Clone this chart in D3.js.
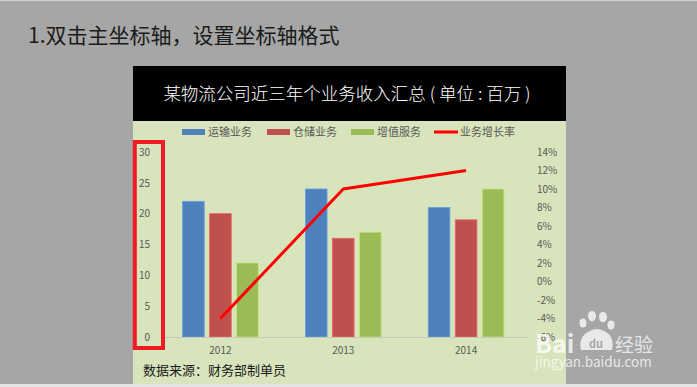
<!DOCTYPE html>
<html><head><meta charset="utf-8">
<script src="https://cdn.jsdelivr.net/npm/d3@7"></script>
<style>
html,body{margin:0;padding:0;background:#a6a6a6;}
svg{display:block;}
text{font-family:"Noto Sans CJK SC","Noto Sans",sans-serif;}
</style></head>
<body>
<svg id="c" width="697" height="387"></svg>
<script>
const years = ["2012", "2013", "2014"];
const seriesNames = ["运输业务", "仓储业务", "增值服务"];
const transport = [22, 24, 21];
const storage = [20, 16, 19];
const valueAdded = [12, 17, 24];
const growthName = "业务增长率";
const growth = [-0.04, 0.10, 0.12];
const leftTicks = [0, 5, 10, 15, 20, 25, 30];
const rightTicks = [-0.06, -0.04, -0.02, 0, 0.02, 0.04, 0.06, 0.08, 0.10, 0.12, 0.14];
const colors = ["#4f81bd", "#c0504d", "#9bbb59"];
const lineColor = "#ff0000";

const svg = d3.select("#c");
svg.append("rect").attr("x",0).attr("y",0).attr("width",697).attr("height",1).attr("fill","#d0d0d0");
svg.append("rect").attr("x",0).attr("y",384).attr("width",697).attr("height",3).attr("fill","#e4e4e4");

svg.append("text").attr("x",28).attr("y",43).attr("font-size",21).attr("fill","#1a1a1a")
  .text("1.双击主坐标轴，设置坐标轴格式");

// panel
svg.append("rect").attr("x",133).attr("y",66).attr("width",433).attr("height",318).attr("fill","#d8e4bc");
svg.append("rect").attr("x",133).attr("y",66).attr("width",433).attr("height",55).attr("fill","#000");
svg.append("text").attr("x",347).attr("y",100).attr("text-anchor","middle").attr("font-size",17.5)
  .attr("font-weight",300).attr("fill","#fff").text("某物流公司近三年个业务收入汇总 ( 单位 : 百万 )");

const x = d3.scaleBand().domain(years).range([159, 527.5]).paddingInner(0.384).paddingOuter(0.192);
const xs = d3.scaleBand().domain(seriesNames).range([0, x.bandwidth()]).paddingInner(0.2).paddingOuter(0);
const yL = d3.scaleLinear().domain([0, 30]).range([337, 152]);
const yR = d3.scaleLinear().domain([-0.06, 0.14]).range([337, 152]);

const data = [transport, storage, valueAdded];

seriesNames.forEach((s, si) => {
  svg.append("g").selectAll("rect").data(years).join("rect")
    .attr("x", (d) => x(d) + xs(s))
    .attr("y", (d, i) => yL(data[si][i]))
    .attr("width", xs.bandwidth())
    .attr("height", (d, i) => yL(0) - yL(data[si][i]))
    .attr("fill", colors[si])
    .attr("stroke", d3.color(colors[si]).brighter(0.6))
    .attr("stroke-width", 0.8);
});

svg.append("line").attr("x1",159).attr("x2",527.5).attr("y1",yL(0)+0.5).attr("y2",yL(0)+0.5)
  .attr("stroke","#c4c9b8").attr("stroke-width",1);

const line = d3.line().x((d, i) => x(years[i]) + x.bandwidth()/2).y(d => yR(d));
svg.append("path").datum(growth).attr("d", line).attr("fill","none")
  .attr("stroke", lineColor).attr("stroke-width", 3).attr("stroke-linejoin","round");

const pct = d => d3.format(".0%")(d).replace("\u2212", "-");
const axL = svg.append("g").attr("transform","translate(150,0)")
  .call(d3.axisLeft(yL).tickValues(leftTicks).tickSize(0).tickPadding(0).tickFormat(d3.format("d")));
const axR = svg.append("g").attr("transform","translate(537,0)")
  .call(d3.axisRight(yR).tickValues(rightTicks).tickSize(0).tickPadding(0).tickFormat(pct));
const axX = svg.append("g").attr("transform","translate(0,337)")
  .call(d3.axisBottom(x).tickSize(0).tickPadding(10));
[axL, axR, axX].forEach(a => {
  a.select(".domain").remove();
  a.selectAll("text").attr("fill","#595959").attr("font-size",10)
    .attr("font-family","'Liberation Sans','Noto Sans',sans-serif");
});

const legend = [
  {name: seriesNames[0], c: colors[0], x: 182, type: "bar"},
  {name: seriesNames[1], c: colors[1], x: 267, type: "bar"},
  {name: seriesNames[2], c: colors[2], x: 351, type: "bar"},
  {name: growthName, c: lineColor, x: 434, type: "line"}
];
const lg = svg.append("g");
legend.forEach(l => {
  if (l.type === "bar") {
    lg.append("rect").attr("x", l.x).attr("y", 129).attr("width", 23).attr("height", 6).attr("fill", l.c);
  } else {
    lg.append("line").attr("x1", l.x).attr("x2", l.x + 24).attr("y1", 132).attr("y2", 132)
      .attr("stroke", l.c).attr("stroke-width", 3);
  }
  lg.append("text").attr("x", l.x + 26).attr("y", 136).attr("font-size", 11).attr("fill","#595959").text(l.name);
});

svg.append("text").attr("x",143).attr("y",375).attr("font-size",13).attr("fill","#1a1a1a")
  .text("数据来源：财务部制单员");

svg.append("rect").attr("x",134.8).attr("y",142).attr("width",28.2).attr("height",206)
  .attr("fill","none").attr("stroke","#ee1c25").attr("stroke-width",4);

// watermark
const wm = svg.append("g").attr("fill","#fff").attr("fill-opacity",0.75);
wm.append("text").attr("x",535).attr("y",353).attr("font-size",25).attr("font-weight","bold")
  .attr("font-family","'Liberation Sans',sans-serif").text("Bai");
[[583,323,3.5],[592,316,4],[603,317,4],[611,325,3.5]].forEach(p => {
  wm.append("ellipse").attr("cx",p[0]).attr("cy",p[1]).attr("rx",p[2]).attr("ry",p[2]*1.3);
});
wm.append("path").attr("d","M581,350 Q578,336 590,331 Q597,327 604,331 Q615,336 612,350 Z");
svg.append("text").attr("x",596).attr("y",348).attr("text-anchor","middle").attr("font-size",11)
  .attr("font-weight","bold").attr("fill","#a6a6a6").attr("font-family","'Liberation Sans',sans-serif").text("du");
wm.append("text").attr("x",615).attr("y",352).attr("font-size",19).text("经验");
wm.append("text").attr("x",535).attr("y",367).attr("font-size",13.5)
  .attr("font-family","'DejaVu Sans',sans-serif").text("jingyan.baidu.com");
</script>
</body></html>
